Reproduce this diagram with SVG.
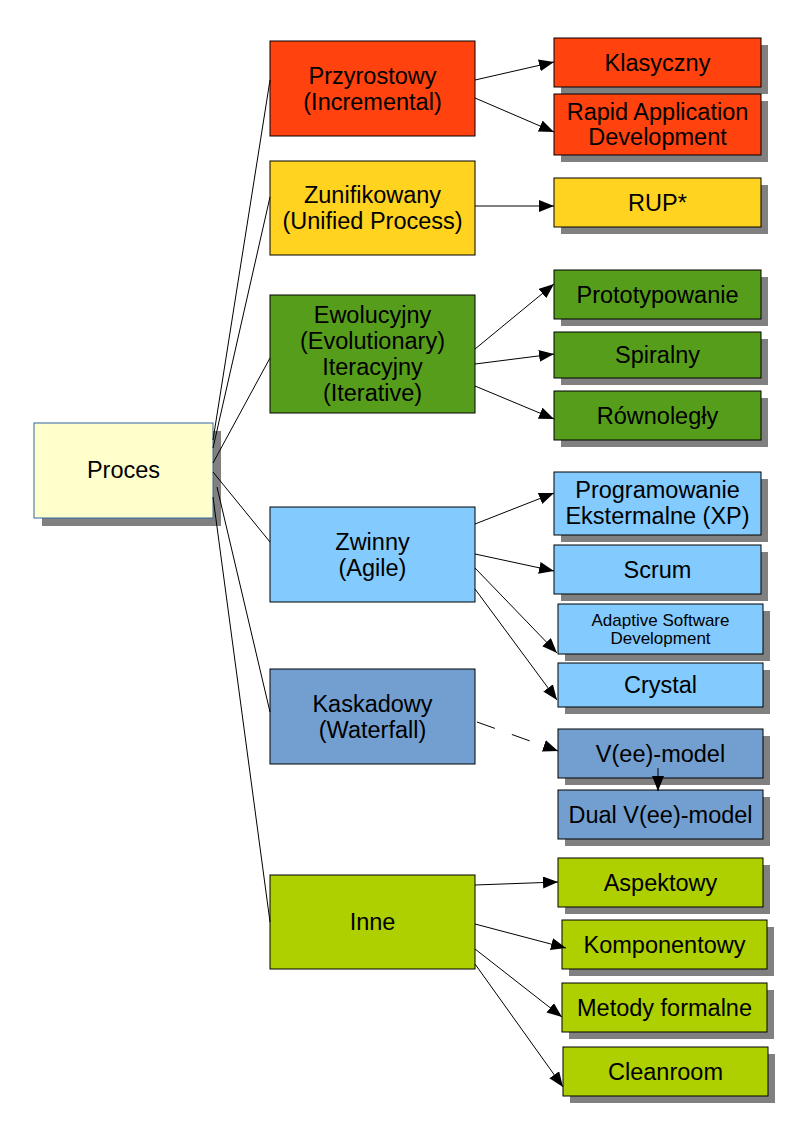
<svg xmlns="http://www.w3.org/2000/svg" width="794" height="1123" viewBox="0 0 794 1123">
<defs>
<marker id="arr" markerUnits="userSpaceOnUse" markerWidth="16" markerHeight="13" refX="15" refY="6" orient="auto">
<path d="M0,0 L15,6 L0,12 z" fill="#000"/>
</marker>
</defs>
<style>
.sh{fill:#808080}
.b{stroke:#000;stroke-width:1}
.t{font-family:"Liberation Sans",Arial,sans-serif;font-size:23.5px;fill:#000;text-anchor:middle}
.s{font-size:17px}
.c{stroke:#000;stroke-width:1;fill:none}
.red{fill:#ff420e}.yel{fill:#ffd320}.grn{fill:#579d1c}.lbl{fill:#83caff}.dbl{fill:#729fcf}.lim{fill:#aecf00}
</style>
<rect width="794" height="1123" fill="#fff"/>

<g id="proces">
<rect class="sh" x="42" y="431" width="179" height="95"/>
<rect x="34" y="423" width="179" height="95" fill="#ffffcc" stroke="#3465a4" stroke-width="1"/>
<text class="t" x="123.5" y="478">Proces</text>
</g>

<g id="przyrostowy">
<rect class="b red" x="270" y="41" width="205" height="95" stroke="#2a1f5e"/>
<text class="t" x="372.5" y="84">Przyrostowy</text>
<text class="t" x="372.5" y="110">(Incremental)</text>
</g>
<g id="zunifikowany">
<rect class="b yel" x="270" y="161" width="205" height="94"/>
<text class="t" x="372.5" y="203">Zunifikowany</text>
<text class="t" x="372.5" y="229">(Unified Process)</text>
</g>
<g id="ewolucyjny">
<rect class="b grn" x="270" y="295" width="205" height="118"/>
<text class="t" x="372.5" y="323">Ewolucyjny</text>
<text class="t" x="372.5" y="349">(Evolutionary)</text>
<text class="t" x="372.5" y="375">Iteracyjny</text>
<text class="t" x="372.5" y="401">(Iterative)</text>
</g>
<g id="zwinny">
<rect class="b lbl" x="270" y="507" width="205" height="95"/>
<text class="t" x="372.5" y="550">Zwinny</text>
<text class="t" x="372.5" y="576">(Agile)</text>
</g>
<g id="kaskadowy">
<rect class="b dbl" x="270" y="669" width="205" height="95"/>
<text class="t" x="372.5" y="712">Kaskadowy</text>
<text class="t" x="372.5" y="738">(Waterfall)</text>
</g>
<g id="inne">
<rect class="b lim" x="270" y="875" width="205" height="94"/>
<text class="t" x="372.5" y="930">Inne</text>
</g>

<g id="klasyczny">
<rect class="sh" x="561" y="45" width="207" height="49"/>
<rect class="b red" x="554" y="38" width="207" height="49"/>
<text class="t" x="657.5" y="70.5">Klasyczny</text>
</g>
<g id="rad">
<rect class="sh" x="561" y="101" width="207" height="61"/>
<rect class="b red" x="554" y="94" width="207" height="61"/>
<text class="t" x="657.5" y="119.5">Rapid Application</text>
<text class="t" x="657.5" y="144.5">Development</text>
</g>
<g id="rup">
<rect class="sh" x="561" y="185" width="207" height="49"/>
<rect class="b yel" x="554" y="178" width="207" height="49"/>
<text class="t" x="657.5" y="210.5">RUP*</text>
</g>
<g id="prototypowanie">
<rect class="sh" x="561" y="277" width="207" height="49"/>
<rect class="b grn" x="554" y="270" width="207" height="49"/>
<text class="t" x="657.5" y="302.5">Prototypowanie</text>
</g>
<g id="spiralny">
<rect class="sh" x="561" y="339" width="207" height="46"/>
<rect class="b grn" x="554" y="332" width="207" height="46"/>
<text class="t" x="657.5" y="363">Spiralny</text>
</g>
<g id="rownolegly">
<rect class="sh" x="561" y="398" width="207" height="49"/>
<rect class="b grn" x="554" y="391" width="207" height="49"/>
<text class="t" x="657.5" y="423.5">Równoległy</text>
</g>
<g id="xp">
<rect class="sh" x="561" y="479" width="207" height="63"/>
<rect class="b lbl" x="554" y="472" width="207" height="63"/>
<text class="t" x="657.5" y="498">Programowanie</text>
<text class="t" x="657.5" y="524">Ekstermalne (XP)</text>
</g>
<g id="scrum">
<rect class="sh" x="561" y="552" width="207" height="49"/>
<rect class="b lbl" x="554" y="545" width="207" height="49"/>
<text class="t" x="657.5" y="577.5">Scrum</text>
</g>
<g id="asd">
<rect class="sh" x="565" y="611" width="205" height="50"/>
<rect class="b lbl" x="558" y="604" width="205" height="50"/>
<text class="t s" x="660.5" y="626">Adaptive Software</text>
<text class="t s" x="660.5" y="644">Development</text>
</g>
<g id="crystal">
<rect class="sh" x="565" y="670" width="205" height="44"/>
<rect class="b lbl" x="558" y="663" width="205" height="44"/>
<text class="t" x="660.5" y="693">Crystal</text>
</g>
<g id="vee">
<rect class="sh" x="565" y="736" width="205" height="49"/>
<rect class="b dbl" x="558" y="729" width="205" height="49"/>
<text class="t" x="660.5" y="761.5">V(ee)-model</text>
</g>
<g id="dual">
<rect class="sh" x="565" y="797" width="205" height="49"/>
<rect class="b dbl" x="558" y="790" width="205" height="49"/>
<text class="t" x="660.5" y="822.5">Dual V(ee)-model</text>
</g>
<g id="aspektowy">
<rect class="sh" x="565" y="865" width="205" height="49"/>
<rect class="b lim" x="558" y="858" width="205" height="49"/>
<text class="t" x="660.5" y="890.5">Aspektowy</text>
</g>
<g id="komponentowy">
<rect class="sh" x="569" y="927" width="205" height="49"/>
<rect class="b lim" x="562" y="920" width="205" height="49"/>
<text class="t" x="664.5" y="952.5">Komponentowy</text>
</g>
<g id="metody">
<rect class="sh" x="569" y="990" width="205" height="49"/>
<rect class="b lim" x="562" y="983" width="205" height="49"/>
<text class="t" x="664.5" y="1015.5">Metody formalne</text>
</g>
<g id="cleanroom">
<rect class="sh" x="570" y="1054" width="205" height="49"/>
<rect class="b lim" x="563" y="1047" width="205" height="49"/>
<text class="t" x="665.5" y="1079.5">Cleanroom</text>
</g>

<g id="connectors">
<line class="c" x1="213" y1="440" x2="270" y2="80"/>
<line class="c" x1="213" y1="448" x2="270" y2="197"/>
<line class="c" x1="213" y1="463" x2="270" y2="358"/>
<line class="c" x1="213" y1="472" x2="270" y2="542"/>
<line class="c" x1="217" y1="487" x2="270" y2="712"/>
<line class="c" x1="213" y1="497" x2="270" y2="922"/>
<line class="c" x1="475" y1="80" x2="554" y2="62" marker-end="url(#arr)"/>
<line class="c" x1="475" y1="98" x2="554" y2="132" marker-end="url(#arr)"/>
<line class="c" x1="475" y1="206" x2="554" y2="206" marker-end="url(#arr)"/>
<line class="c" x1="475" y1="349" x2="554" y2="284" marker-end="url(#arr)"/>
<line class="c" x1="475" y1="364" x2="554" y2="354" marker-end="url(#arr)"/>
<line class="c" x1="475" y1="386" x2="554" y2="419" marker-end="url(#arr)"/>
<line class="c" x1="475" y1="524" x2="554" y2="493" marker-end="url(#arr)"/>
<line class="c" x1="475" y1="554" x2="554" y2="571" marker-end="url(#arr)"/>
<line class="c" x1="475" y1="568" x2="557" y2="653" marker-end="url(#arr)"/>
<line class="c" x1="475" y1="589" x2="557" y2="700" marker-end="url(#arr)"/>
<line class="c" x1="477" y1="722" x2="558" y2="751" stroke-dasharray="19 18" marker-end="url(#arr)"/>
<line class="c" x1="658" y1="768" x2="658" y2="791" marker-end="url(#arr)"/>
<line class="c" x1="475" y1="885" x2="558" y2="882" marker-end="url(#arr)"/>
<line class="c" x1="475" y1="924" x2="566" y2="948" marker-end="url(#arr)"/>
<line class="c" x1="475" y1="949" x2="562" y2="1017" marker-end="url(#arr)"/>
<line class="c" x1="475" y1="964" x2="563" y2="1087" marker-end="url(#arr)"/>
</g>
</svg>
